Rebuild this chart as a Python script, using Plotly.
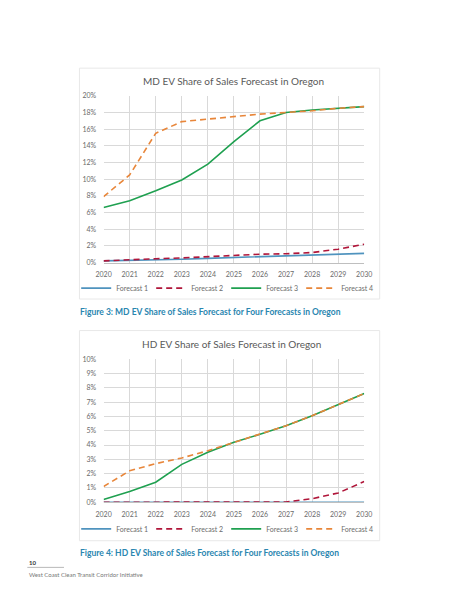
import plotly.graph_objects as go

years = [2020, 2021, 2022, 2023, 2024, 2025, 2026, 2027, 2028, 2029, 2030]
series_names = ['Forecast 1', 'Forecast 2', 'Forecast 3', 'Forecast 4']

# MD EV share of sales (%)
md_f1 = [0.2, 0.25, 0.35, 0.4, 0.5, 0.6, 0.75, 0.85, 0.9, 1.0, 1.1]
md_f2 = [0.2, 0.35, 0.45, 0.55, 0.7, 0.8, 1.0, 1.05, 1.2, 1.6, 2.2]
md_f3 = [6.6, 7.4, 8.6, 9.9, 11.8, 14.5, 17.0, 18.0, 18.3, 18.5, 18.7]
md_f4 = [7.9, 10.5, 15.5, 16.9, 17.2, 17.5, 17.8, 18.0, 18.2, 18.5, 18.7]

# HD EV share of sales (%)
hd_f1 = [0, 0, 0, 0, 0, 0, 0, 0, 0, 0, 0]
hd_f2 = [0, 0, 0, 0, 0, 0, 0, 0.02, 0.25, 0.65, 1.45]
hd_f3 = [0.2, 0.75, 1.4, 2.65, 3.5, 4.2, 4.75, 5.35, 6.05, 6.8, 7.6]
hd_f4 = [1.1, 2.2, 2.7, 3.1, 3.6, 4.2, 4.75, 5.35, 6.05, 6.8, 7.6]

md_ticks = [0, 2, 4, 6, 8, 10, 12, 14, 16, 18, 20]
hd_ticks = [0, 1, 2, 3, 4, 5, 6, 7, 8, 9, 10]

colors = ['#4F93BE', '#B0163A', '#1FA050', '#E8863A']
dashes = ['solid', '6px,4px', 'solid', '6px,4px']

W, H = 463, 599
font = 'Lato, Open Sans, sans-serif'
grey = '#6b6b6b'

fig = go.Figure()

for i, (name, ys) in enumerate(zip(series_names, [md_f1, md_f2, md_f3, md_f4])):
    fig.add_trace(go.Scatter(x=years, y=ys, name=name, mode='lines',
                             line=dict(color=colors[i], width=1.6, dash=dashes[i]),
                             xaxis='x', yaxis='y', legend='legend'))
for i, (name, ys) in enumerate(zip(series_names, [hd_f1, hd_f2, hd_f3, hd_f4])):
    fig.add_trace(go.Scatter(x=years, y=ys, name=name, mode='lines',
                             line=dict(color=colors[i], width=1.6, dash=dashes[i]),
                             xaxis='x2', yaxis='y2', legend='legend2'))


def px_x(p):
    return p / W


def px_y(p):
    return 1 - p / H


axis_common = dict(showgrid=True, gridcolor='#d9d9d9', gridwidth=1, zeroline=False,
                   tickfont=dict(size=7, color=grey, family=font),
                   ticks='outside', ticklen=5, tickcolor='rgba(0,0,0,0)')

legend_common = dict(orientation='h', x=px_x(226), xanchor='center', yanchor='middle',
                     font=dict(size=7, color=grey, family=font),
                     entrywidth=30, entrywidthmode='pixels', bgcolor='rgba(0,0,0,0)')

fig.update_layout(
    width=W, height=H,
    margin=dict(l=0, r=0, t=0, b=0),
    paper_bgcolor='white', plot_bgcolor='white',
    font=dict(family=font, color=grey),
    xaxis=dict(domain=[px_x(99), px_x(369)], anchor='y', range=[2020, 2030],
               tickvals=years, showline=True, linecolor='#bfbfbf', **axis_common),
    yaxis=dict(domain=[px_y(261), px_y(92)], anchor='x', range=[0, 20],
               tickvals=md_ticks, ticktext=[f'{t}%' for t in md_ticks], **axis_common),
    xaxis2=dict(domain=[px_x(99), px_x(369)], anchor='y2', range=[2020, 2030],
                tickvals=years, showline=True, linecolor='#bfbfbf', **axis_common),
    yaxis2=dict(domain=[px_y(504), px_y(359)], anchor='x2', range=[0, 10],
                tickvals=hd_ticks, ticktext=[f'{t}%' for t in hd_ticks], **axis_common),
    legend=dict(y=px_y(287), **legend_common),
    legend2=dict(y=px_y(531), **legend_common),
)

# chart frames
fig.add_shape(type='rect', xref='paper', yref='paper', x0=px_x(74), x1=px_x(385),
              y0=px_y(298), y1=px_y(64), line=dict(color='#e8e8e8', width=1))
fig.add_shape(type='rect', xref='paper', yref='paper', x0=px_x(74), x1=px_x(385),
              y0=px_y(543), y1=px_y(330), line=dict(color='#e8e8e8', width=1))

# chart titles
fig.add_annotation(text='MD EV Share of Sales Forecast in Oregon', xref='paper', yref='paper',
                   x=px_x(234), y=px_y(77), showarrow=False, xanchor='center', yanchor='middle',
                   font=dict(size=10, color='#595959', family=font))
fig.add_annotation(text='HD EV Share of Sales Forecast in Oregon', xref='paper', yref='paper',
                   x=px_x(231), y=px_y(344), showarrow=False, xanchor='center', yanchor='middle',
                   font=dict(size=10, color='#595959', family=font))

# figure captions
cap_color = '#2A86B0'
fig.add_annotation(text='<b>Figure 3: MD EV Share of Sales Forecast for Four Forecasts in Oregon</b>',
                   xref='paper', yref='paper', x=px_x(73), y=px_y(311), showarrow=False,
                   xanchor='left', yanchor='middle', font=dict(size=8.5, color=cap_color, family=font))
fig.add_annotation(text='<b>Figure 4: HD EV Share of Sales Forecast for Four Forecasts in Oregon</b>',
                   xref='paper', yref='paper', x=px_x(73), y=px_y(555), showarrow=False,
                   xanchor='left', yanchor='middle', font=dict(size=8.5, color=cap_color, family=font))

# page footer
fig.add_annotation(text='<b>10</b>', xref='paper', yref='paper', x=px_x(20), y=px_y(565),
                   showarrow=False, xanchor='left', yanchor='middle',
                   font=dict(size=6, color='#333333', family=font))
fig.add_shape(type='line', xref='paper', yref='paper', x0=px_x(20), x1=px_x(58),
              y0=px_y(570), y1=px_y(570), line=dict(color='#999999', width=0.7))
fig.add_annotation(text='West Coast Clean Transit Corridor Initiative', xref='paper', yref='paper',
                   x=px_x(20), y=px_y(577), showarrow=False, xanchor='left', yanchor='middle',
                   font=dict(size=6, color='#777777', family=font))

# remove the default page margin so the figure sits at the window origin
fig.write_html('out.html', config={'displayModeBar': False},
               post_script="document.body.style.margin='0';")
